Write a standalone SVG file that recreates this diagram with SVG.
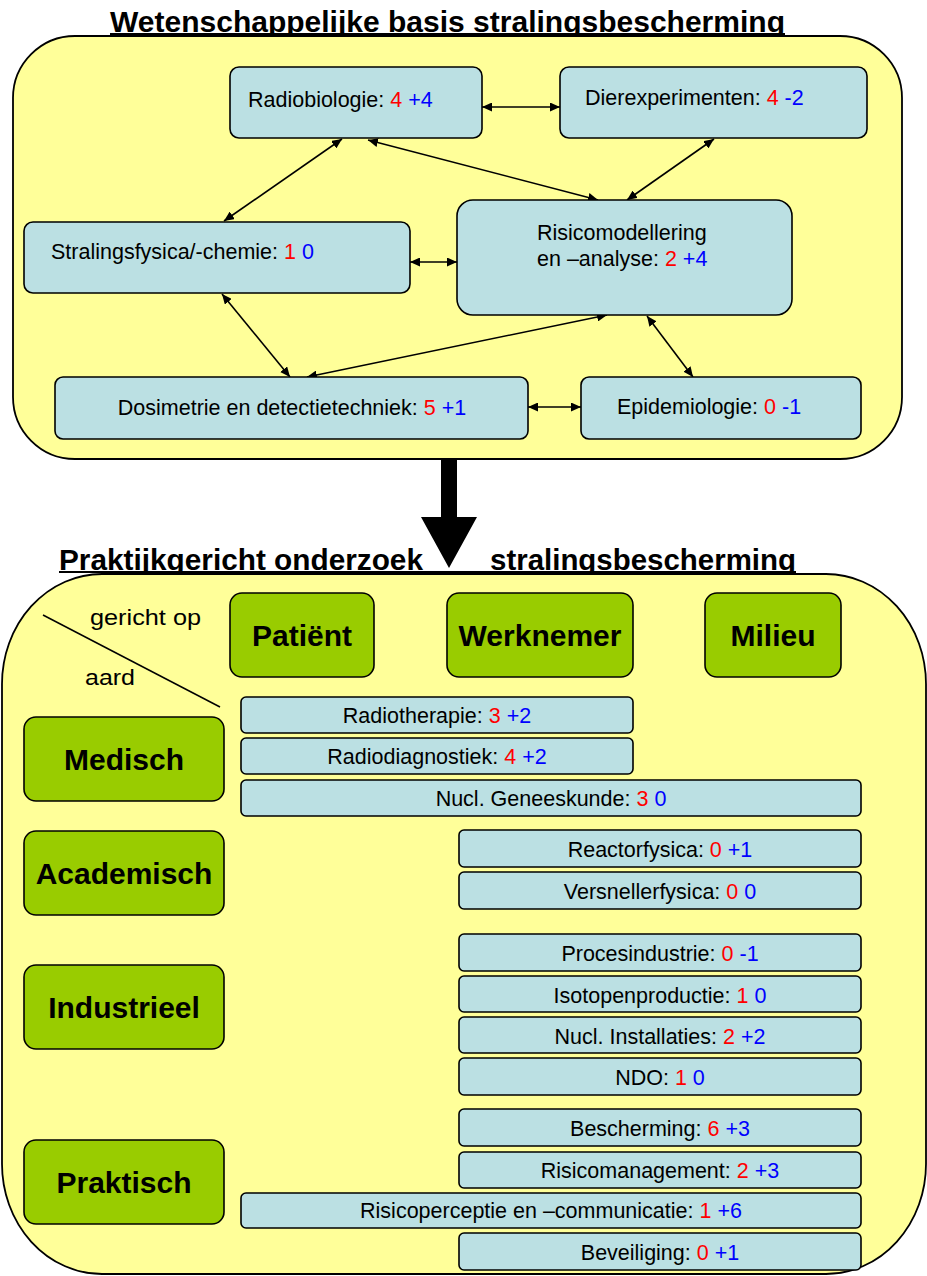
<svg xmlns="http://www.w3.org/2000/svg" width="927" height="1276" viewBox="0 0 927 1276">
<defs>
<style>
.title{font-family:"Liberation Sans",Arial,sans-serif;font-weight:bold;font-size:30px;fill:#000}
.lbl{font-family:"Liberation Sans",Arial,sans-serif;font-size:21.5px;fill:#000}
.big{font-family:"Liberation Sans",Arial,sans-serif;font-weight:bold;font-size:30px;fill:#000}
.r{fill:#FF0000}
.b{fill:#0000FF}
.panel{fill:#FFFF99;stroke:#000;stroke-width:1.8}
.box{fill:#BBE0E3;stroke:#000;stroke-width:1.6}
.gbox{fill:#99CC00;stroke:#000;stroke-width:1.6}
.con{stroke:#000;stroke-width:1.6;fill:none;marker-start:url(#ah);marker-end:url(#ah)}
</style>
<marker id="ah" markerUnits="userSpaceOnUse" markerWidth="10" markerHeight="9" refX="10" refY="4.5" orient="auto-start-reverse">
<path d="M0,0 L10,4.5 L0,9 z" fill="#000"/>
</marker>
</defs>
<rect width="927" height="1276" fill="#FFFFFF"/>

<!-- Titles (drawn first so panels clip descenders) -->
<text class="title" x="110" y="32" textLength="675" lengthAdjust="spacingAndGlyphs">Wetenschappelijke basis stralingsbescherming</text>
<line x1="110" y1="34" x2="785" y2="34" stroke="#000" stroke-width="2"/>
<text class="title" x="59" y="570" textLength="364" lengthAdjust="spacingAndGlyphs">Praktijkgericht onderzoek</text>
<text class="title" x="490" y="570" textLength="306" lengthAdjust="spacingAndGlyphs">stralingsbescherming</text>
<line x1="59" y1="572" x2="796" y2="572" stroke="#000" stroke-width="2"/>

<!-- Panels -->
<rect id="panel-top" class="panel" x="13" y="36" width="889" height="423" rx="62" ry="62"/>
<rect id="panel-bottom" class="panel" x="2" y="574" width="924" height="700" rx="100" ry="110"/>

<!-- Connectors -->
<g id="connectors">
<line class="con" x1="482" y1="107" x2="560" y2="107"/>
<line class="con" x1="342" y1="139" x2="224" y2="221"/>
<line class="con" x1="368" y1="140" x2="598" y2="200"/>
<line class="con" x1="714" y1="139" x2="627" y2="200"/>
<line class="con" x1="410" y1="262" x2="457" y2="262"/>
<line class="con" x1="222" y1="294" x2="290" y2="377"/>
<line class="con" x1="607" y1="315" x2="307" y2="377"/>
<line class="con" x1="647" y1="316" x2="693" y2="377"/>
<line class="con" x1="528" y1="407" x2="581" y2="407"/>
<polygon id="big-arrow" points="441,459 457,459 457,517 477,517 449,568 421,517 441,517" fill="#000"/>
<line x1="43" y1="615" x2="220" y2="707" stroke="#000" stroke-width="1.5"/>
</g>

<!-- Top nodes -->
<g id="n-radiobiologie"><rect class="box" x="230" y="67" width="252" height="71" rx="9"/>
<text class="lbl" x="248" y="107">Radiobiologie: <tspan class="r">4</tspan> <tspan class="b">+4</tspan></text></g>
<g id="n-dierexperimenten"><rect class="box" x="560" y="67" width="307" height="71" rx="9"/>
<text class="lbl" x="585" y="105">Dierexperimenten: <tspan class="r">4</tspan> <tspan class="b">-2</tspan></text></g>
<g id="n-stralingsfysica"><rect class="box" x="24" y="222" width="386" height="71" rx="9"/>
<text class="lbl" x="51" y="259">Stralingsfysica/-chemie: <tspan class="r">1</tspan> <tspan class="b">0</tspan></text></g>
<g id="n-risicomodellering"><rect class="box" x="457" y="200" width="335" height="115" rx="16"/>
<text class="lbl" x="537" y="240">Risicomodellering</text>
<text class="lbl" x="537" y="266">en –analyse: <tspan class="r">2</tspan> <tspan class="b">+4</tspan></text></g>
<g id="n-dosimetrie"><rect class="box" x="55" y="377" width="473" height="62" rx="8"/>
<text class="lbl" x="292" y="415" text-anchor="middle">Dosimetrie en detectietechniek: <tspan class="r">5</tspan> <tspan class="b">+1</tspan></text></g>
<g id="n-epidemiologie"><rect class="box" x="581" y="377" width="280" height="62" rx="8"/>
<text class="lbl" x="617" y="414">Epidemiologie: <tspan class="r">0</tspan> <tspan class="b">-1</tspan></text></g>

<!-- Axis labels -->
<text class="lbl" x="90" y="625" font-size="23" textLength="111" lengthAdjust="spacingAndGlyphs">gericht op</text>
<text class="lbl" x="85" y="685" font-size="23" textLength="50" lengthAdjust="spacingAndGlyphs">aard</text>

<!-- Column headers -->
<g id="n-patient"><rect class="gbox" x="230" y="593" width="144" height="84" rx="12"/>
<text class="big" x="302" y="646" text-anchor="middle">Patiënt</text></g>
<g id="n-werknemer"><rect class="gbox" x="447" y="593" width="186" height="84" rx="12"/>
<text class="big" x="540" y="646" text-anchor="middle">Werknemer</text></g>
<g id="n-milieu"><rect class="gbox" x="705" y="593" width="136" height="84" rx="12"/>
<text class="big" x="773" y="646" text-anchor="middle">Milieu</text></g>

<!-- Row headers -->
<g id="n-medisch"><rect class="gbox" x="24" y="717" width="200" height="84" rx="12"/>
<text class="big" x="124" y="770" text-anchor="middle">Medisch</text></g>
<g id="n-academisch"><rect class="gbox" x="24" y="831" width="200" height="84" rx="12"/>
<text class="big" x="124" y="884" text-anchor="middle">Academisch</text></g>
<g id="n-industrieel"><rect class="gbox" x="24" y="965" width="200" height="84" rx="12"/>
<text class="big" x="124" y="1018" text-anchor="middle">Industrieel</text></g>
<g id="n-praktisch"><rect class="gbox" x="24" y="1140" width="200" height="84" rx="12"/>
<text class="big" x="124" y="1193" text-anchor="middle">Praktisch</text></g>

<!-- Topic boxes -->
<g id="n-radiotherapie"><rect class="box" x="241" y="697" width="392" height="36" rx="5"/>
<text class="lbl" x="437" y="723" text-anchor="middle">Radiotherapie: <tspan class="r">3</tspan> <tspan class="b">+2</tspan></text></g>
<g id="n-radiodiagnostiek"><rect class="box" x="241" y="738" width="392" height="36" rx="5"/>
<text class="lbl" x="437" y="764" text-anchor="middle">Radiodiagnostiek: <tspan class="r">4</tspan> <tspan class="b">+2</tspan></text></g>
<g id="n-nucl-geneeskunde"><rect class="box" x="241" y="780" width="620" height="36" rx="5"/>
<text class="lbl" x="551" y="806" text-anchor="middle">Nucl. Geneeskunde: <tspan class="r">3</tspan> <tspan class="b">0</tspan></text></g>
<g id="n-reactorfysica"><rect class="box" x="459" y="830" width="402" height="37" rx="5"/>
<text class="lbl" x="660" y="857" text-anchor="middle">Reactorfysica: <tspan class="r">0</tspan> <tspan class="b">+1</tspan></text></g>
<g id="n-versnellerfysica"><rect class="box" x="459" y="872" width="402" height="37" rx="5"/>
<text class="lbl" x="660" y="899" text-anchor="middle">Versnellerfysica: <tspan class="r">0</tspan> <tspan class="b">0</tspan></text></g>
<g id="n-procesindustrie"><rect class="box" x="459" y="934" width="402" height="37" rx="5"/>
<text class="lbl" x="660" y="961" text-anchor="middle">Procesindustrie: <tspan class="r">0</tspan> <tspan class="b">-1</tspan></text></g>
<g id="n-isotopenproductie"><rect class="box" x="459" y="976" width="402" height="36" rx="5"/>
<text class="lbl" x="660" y="1003" text-anchor="middle">Isotopenproductie: <tspan class="r">1</tspan> <tspan class="b">0</tspan></text></g>
<g id="n-nucl-installaties"><rect class="box" x="459" y="1017" width="402" height="36" rx="5"/>
<text class="lbl" x="660" y="1044" text-anchor="middle">Nucl. Installaties: <tspan class="r">2</tspan> <tspan class="b">+2</tspan></text></g>
<g id="n-ndo"><rect class="box" x="459" y="1058" width="402" height="37" rx="5"/>
<text class="lbl" x="660" y="1085" text-anchor="middle">NDO: <tspan class="r">1</tspan> <tspan class="b">0</tspan></text></g>
<g id="n-bescherming"><rect class="box" x="459" y="1109" width="402" height="37" rx="5"/>
<text class="lbl" x="660" y="1136" text-anchor="middle">Bescherming: <tspan class="r">6</tspan> <tspan class="b">+3</tspan></text></g>
<g id="n-risicomanagement"><rect class="box" x="459" y="1152" width="402" height="36" rx="5"/>
<text class="lbl" x="660" y="1178" text-anchor="middle">Risicomanagement: <tspan class="r">2</tspan> <tspan class="b">+3</tspan></text></g>
<g id="n-risicoperceptie"><rect class="box" x="241" y="1193" width="620" height="35" rx="5"/>
<text class="lbl" x="551" y="1218" text-anchor="middle">Risicoperceptie en –communicatie: <tspan class="r">1</tspan> <tspan class="b">+6</tspan></text></g>
<g id="n-beveiliging"><rect class="box" x="459" y="1233" width="402" height="37" rx="5"/>
<text class="lbl" x="660" y="1260" text-anchor="middle">Beveiliging: <tspan class="r">0</tspan> <tspan class="b">+1</tspan></text></g>
</svg>
